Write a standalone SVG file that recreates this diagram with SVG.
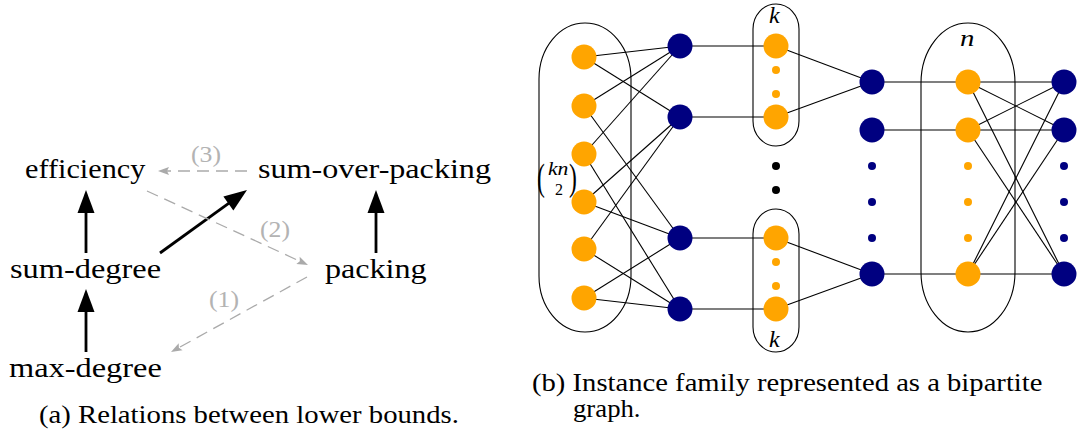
<svg xmlns="http://www.w3.org/2000/svg" width="1088" height="435" viewBox="0 0 1088 435">
<style>
.t{font-family:'Liberation Serif',serif;fill:#000}
.lab{font-family:'Liberation Serif',serif;fill:#b3b3b3;font-size:23px}
.it{font-family:'Liberation Serif',serif;font-style:italic;font-size:24px;fill:#000}
.blk{stroke:#000;stroke-width:2.8;fill:none}
.gry{stroke:#aaaaaa;stroke-width:1.3;fill:none;stroke-dasharray:12 7}
.edge{stroke:#000;stroke-width:1.1;fill:none}
.grp{stroke:#000;stroke-width:1.1;fill:none}
.o{fill:#FFA500}
.b{fill:#000080}
</style>
<rect width="1088" height="435" fill="#fff"/>

<g id="connectors-a">
<line class="blk" x1="86" y1="253" x2="86" y2="211"/>
<line class="blk" x1="86" y1="352" x2="86" y2="310"/>
<line class="blk" x1="376" y1="253" x2="376" y2="211"/>
<line class="blk" x1="160" y1="253" x2="230" y2="202.3"/>
<g fill="#000">
<polygon points="86,190 77.5,213 94.5,213"/>
<polygon points="86,289 77.5,312 94.5,312"/>
<polygon points="376,190 367.5,213 384.5,213"/>
<polygon points="247,190 233.36,210.39 223.38,196.62"/>
</g>
<line class="gry" x1="247" y1="171" x2="167" y2="171"/>
<line class="gry" x1="147" y1="191" x2="299.8" y2="261.2"/>
<line class="gry" x1="307" y1="277" x2="178.9" y2="347.6"/>
<g fill="#aaaaaa">
<path d="M158,171 L169,167 L167,171 L169,175 z"/>
<path d="M308,265 L296.33,264.04 L299.82,261.24 L299.67,256.78 z"/>
<path d="M171,352 L178.70,343.19 L178.88,347.65 L182.56,350.19 z"/>
</g>
<text class="lab" transform="translate(191 162) scale(1.12 1)">(3)</text>
<text class="lab" transform="translate(260 237) scale(1.12 1)">(2)</text>
<text class="lab" transform="translate(209 307) scale(1.12 1)">(1)</text>
</g>
<g id="efficiency"><text class="t" font-size="27" transform="translate(25 178) scale(1.12 1)">efficiency</text></g>
<g id="sum-over-packing"><text class="t" font-size="27" transform="translate(258 178) scale(1.19 1)">sum-over-packing</text></g>
<g id="sum-degree"><text class="t" font-size="27" transform="translate(10 278) scale(1.2 1)">sum-degree</text></g>
<g id="packing"><text class="t" font-size="27" transform="translate(325 278) scale(1.19 1)">packing</text></g>
<g id="max-degree"><text class="t" font-size="27" transform="translate(9 377) scale(1.2 1)">max-degree</text></g>
<text class="t" font-size="25" transform="translate(39 423) scale(1.148 1)">(a) Relations between lower bounds.</text>

<g id="connectors-b">
<line class="edge" x1="584" y1="57" x2="680" y2="46"/>
<line class="edge" x1="584" y1="57" x2="680" y2="117"/>
<line class="edge" x1="584" y1="106" x2="680" y2="46"/>
<line class="edge" x1="584" y1="106" x2="680" y2="238"/>
<line class="edge" x1="584" y1="154" x2="680" y2="46"/>
<line class="edge" x1="584" y1="154" x2="680" y2="309"/>
<line class="edge" x1="584" y1="202" x2="680" y2="117"/>
<line class="edge" x1="584" y1="202" x2="680" y2="238"/>
<line class="edge" x1="584" y1="249" x2="680" y2="117"/>
<line class="edge" x1="584" y1="249" x2="680" y2="309"/>
<line class="edge" x1="584" y1="298" x2="680" y2="238"/>
<line class="edge" x1="584" y1="298" x2="680" y2="309"/>
<line class="edge" x1="680" y1="46" x2="776" y2="46"/>
<line class="edge" x1="680" y1="117" x2="776" y2="117"/>
<line class="edge" x1="680" y1="238" x2="776" y2="238"/>
<line class="edge" x1="680" y1="309" x2="776" y2="309"/>
<line class="edge" x1="776" y1="46" x2="872" y2="82"/>
<line class="edge" x1="776" y1="117" x2="872" y2="82"/>
<line class="edge" x1="776" y1="238" x2="872" y2="274"/>
<line class="edge" x1="776" y1="309" x2="872" y2="274"/>
<line class="edge" x1="872" y1="82" x2="968" y2="82"/>
<line class="edge" x1="872" y1="130" x2="968" y2="130"/>
<line class="edge" x1="872" y1="274" x2="968" y2="274"/>
<line class="edge" x1="968" y1="82" x2="1064" y2="82"/>
<line class="edge" x1="968" y1="82" x2="1064" y2="130"/>
<line class="edge" x1="968" y1="82" x2="1064" y2="274"/>
<line class="edge" x1="968" y1="130" x2="1064" y2="130"/>
<line class="edge" x1="968" y1="130" x2="1064" y2="82"/>
<line class="edge" x1="968" y1="130" x2="1064" y2="274"/>
<line class="edge" x1="968" y1="274" x2="1064" y2="274"/>
<line class="edge" x1="968" y1="274" x2="1064" y2="82"/>
<line class="edge" x1="968" y1="274" x2="1064" y2="130"/>
</g>

<g id="group-left">
<rect class="grp" x="539" y="23" width="92" height="309" rx="46" ry="56"/>
<text class="t" font-size="38" transform="translate(537 190) scale(0.62 1)">(</text>
<text class="t" font-size="18" font-style="italic" transform="translate(548 175) scale(1.2 1)">kn</text>
<text class="t" font-size="16" x="555" y="195">2</text>
<text class="t" font-size="38" transform="translate(569 190) scale(0.62 1)">)</text>
</g>
<g id="group-k-top">
<rect class="grp" x="753" y="4" width="46" height="142" rx="23" ry="25"/>
<text class="it" x="769" y="22.5">k</text>
</g>
<g id="group-k-bottom">
<rect class="grp" x="753" y="209" width="46" height="143" rx="23" ry="25"/>
<text class="it" x="769" y="347">k</text>
</g>
<g id="group-n">
<rect class="grp" x="921" y="23" width="94" height="309" rx="47" ry="60"/>
<text class="it" transform="translate(960 45.5) scale(1.2 1)">n</text>
</g>

<g id="pair-1"><circle class="o" cx="584" cy="57" r="12.5"/></g>
<g id="pair-2"><circle class="o" cx="584" cy="106" r="12.5"/></g>
<g id="pair-3"><circle class="o" cx="584" cy="154" r="12.5"/></g>
<g id="pair-4"><circle class="o" cx="584" cy="202" r="12.5"/></g>
<g id="pair-5"><circle class="o" cx="584" cy="249" r="12.5"/></g>
<g id="pair-6"><circle class="o" cx="584" cy="298" r="12.5"/></g>

<g id="b1-1"><circle class="b" cx="680" cy="46" r="12.5"/></g>
<g id="b1-2"><circle class="b" cx="680" cy="117" r="12.5"/></g>
<g id="b1-3"><circle class="b" cx="680" cy="238" r="12.5"/></g>
<g id="b1-4"><circle class="b" cx="680" cy="309" r="12.5"/></g>

<g id="k1-1"><circle class="o" cx="776" cy="46" r="12.5"/></g>
<g id="k1-dots"><circle class="o" cx="776" cy="70" r="4"/><circle class="o" cx="776" cy="94" r="4"/></g>
<g id="k1-2"><circle class="o" cx="776" cy="117" r="12.5"/></g>
<g id="mid-dots"><circle fill="#000" cx="776" cy="166" r="4"/><circle fill="#000" cx="776" cy="190" r="4"/></g>
<g id="k2-1"><circle class="o" cx="776" cy="238" r="12.5"/></g>
<g id="k2-dots"><circle class="o" cx="776" cy="262" r="4"/><circle class="o" cx="776" cy="286" r="4"/></g>
<g id="k2-2"><circle class="o" cx="776" cy="309" r="12.5"/></g>

<g id="b2-1"><circle class="b" cx="872" cy="82" r="12.5"/></g>
<g id="b2-2"><circle class="b" cx="872" cy="130" r="12.5"/></g>
<g id="b2-dots"><circle class="b" cx="872" cy="166" r="4"/><circle class="b" cx="872" cy="202" r="4"/><circle class="b" cx="872" cy="238" r="4"/></g>
<g id="b2-3"><circle class="b" cx="872" cy="274" r="12.5"/></g>

<g id="n-1"><circle class="o" cx="968" cy="82" r="12.5"/></g>
<g id="n-2"><circle class="o" cx="968" cy="130" r="12.5"/></g>
<g id="n-dots"><circle class="o" cx="968" cy="166" r="4"/><circle class="o" cx="968" cy="202" r="4"/><circle class="o" cx="968" cy="238" r="4"/></g>
<g id="n-3"><circle class="o" cx="968" cy="274" r="12.5"/></g>

<g id="b3-1"><circle class="b" cx="1064" cy="82" r="12.5"/></g>
<g id="b3-2"><circle class="b" cx="1064" cy="130" r="12.5"/></g>
<g id="b3-dots"><circle class="b" cx="1064" cy="166" r="4"/><circle class="b" cx="1064" cy="202" r="4"/><circle class="b" cx="1064" cy="238" r="4"/></g>
<g id="b3-3"><circle class="b" cx="1064" cy="274" r="12.5"/></g>

<text class="t" font-size="25" transform="translate(532 391) scale(1.146 1)">(b) Instance family represented as a bipartite</text>
<text class="t" font-size="25" transform="translate(573 417) scale(1.07 1)">graph.</text>
</svg>
